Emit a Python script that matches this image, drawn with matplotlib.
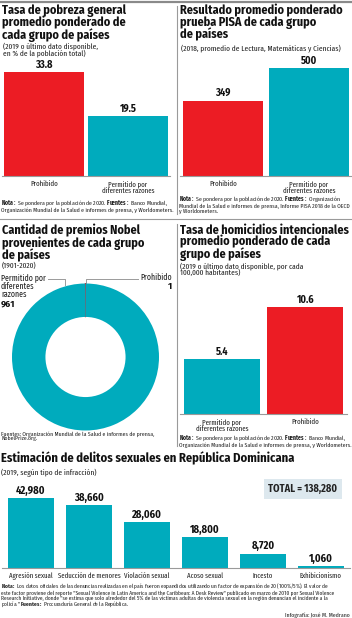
import matplotlib
matplotlib.use('Agg')
import matplotlib.pyplot as plt

# colores
ROJO = '#ec1c24'
TEAL = '#00abbd'
GRIS = '#9a9a9a'

# datos
pobreza_cats = ['Prohibido', 'Permitido por\ndiferentes razones']
pobreza_vals = [33.8, 19.5]

pisa_cats = ['Prohibido', 'Permitido por\ndiferentes razones']
pisa_vals = [349, 500]

nobel_cats = ['Prohibido', 'Permitido por\ndiferentes\nrazones']
nobel_vals = [1, 961]

homicidio_cats = ['Permitido por\ndiferentes razones', 'Prohibido']
homicidio_vals = [5.4, 10.6]

delitos_cats = ['Agresión sexual', 'Seducción de menores', 'Violación sexual',
                'Acoso sexual', 'Incesto', 'Exhibicionismo']
delitos_vals = [42980, 38660, 28060, 18800, 8720, 1060]

FAM = ['Fira Sans Condensed', 'DejaVu Sans']
NOTA_FAM = ['Fira Sans Extra Condensed', 'DejaVu Sans']
plt.rcParams['font.family'] = FAM
plt.rcParams['mathtext.fontset'] = 'custom'
plt.rcParams['mathtext.rm'] = 'Fira Sans Extra Condensed'
plt.rcParams['mathtext.bf'] = 'Fira Sans Extra Condensed:bold'

W, H = 352, 618
fig = plt.figure(figsize=(W / 100, H / 100), dpi=100)

# lienzo en pixeles para textos y lineas
cv = fig.add_axes([0, 0, 1, 1])
cv.set_xlim(0, W)
cv.set_ylim(H, 0)
cv.axis('off')


def ax_px(x0, y0, x1, y1):
    a = fig.add_axes([x0 / W, 1 - y1 / H, (x1 - x0) / W, (y1 - y0) / H])
    a.set_facecolor('none')
    return a


def titulo(x, y, s, size=8.8):
    cv.text(x, y, s, fontsize=size, fontweight='bold', va='top', ha='left',
            linespacing=0.9, color='#111111')


def sub(x, y, s, size=5.8):
    cv.text(x, y, s, fontsize=size, va='top', ha='left', linespacing=0.92,
            color='#222222', family=NOTA_FAM)


def nota(x, y, s, size=4.5, ls=0.88):
    cv.text(x, y, s, fontsize=size, va='top', ha='left', linespacing=ls,
            color='#222222', family=NOTA_FAM)


def barras(x0, x1, base, alto_px, max_px, cats, vals, colores, fmt, ancho,
           vsize=7.4, lsize=5.4):
    ax = ax_px(x0, base - alto_px, x1, base)
    pos = range(len(vals))
    ax.bar(pos, vals, width=ancho, color=colores)
    ax.set_xlim(-0.5, len(vals) - 0.5)
    ax.set_ylim(0, max(vals) * alto_px / max_px)
    for p, v in zip(pos, vals):
        ax.annotate(fmt(v), (p, v), xytext=(0, 1.5), textcoords='offset points',
                    ha='center', va='bottom', fontsize=vsize, fontweight='bold',
                    color='#111111')
    ax.set_xticks(list(pos))
    ax.set_xticklabels(cats, fontsize=lsize, linespacing=0.95, color='#222222',
                       family=NOTA_FAM)
    ax.tick_params(axis='x', length=0, pad=3)
    ax.set_yticks([])
    for s in ['top', 'left', 'right']:
        ax.spines[s].set_visible(False)
    ax.spines['bottom'].set_color(GRIS)
    ax.spines['bottom'].set_linewidth(0.8)
    return ax


# separadores
cv.plot([0, W], [1.5, 1.5], color='#8a8a8a', lw=1.6)
cv.plot([0, W], [219, 219], color=GRIS, lw=0.8)
cv.plot([176.5, 176.5], [6, 214], color=GRIS, lw=0.8)
cv.plot([176.5, 176.5], [224, 446], color=GRIS, lw=0.8)

# panel 1: pobreza
titulo(2, 4, 'Tasa de pobreza general\npromedio ponderado de\ncada grupo de países')
sub(3, 42, '(2019 o último dato disponible,\nen % de la población total)')
barras(2, 170, 176, 120, 104, pobreza_cats, pobreza_vals, [ROJO, TEAL],
       lambda v: f'{v:.1f}', 0.952)
nota(1, 199, r'$\bf{Nota:}$ Se pondera por la población de 2020. $\bf{Fuentes:}$ Banco Mundial,'
     '\nOrganización Mundial de la Salud e informes de prensa, y Worldometers.')

# panel 2: PISA
titulo(180, 4, 'Resultado promedio ponderado\nprueba PISA de cada grupo\nde países')
sub(181, 44, '(2018, promedio de Lectura, Matemáticas y Ciencias)')
barras(180, 352, 176, 120, 108, pisa_cats, pisa_vals, [ROJO, TEAL],
       lambda v: f'{v:d}', 0.93)
nota(179, 195, r'$\bf{Nota:}$ Se pondera por la población de 2020. $\bf{Fuentes:}$ Organización'
     '\nMundial de la Salud e informes de prensa, Informe PISA 2018 de la OECD'
     '\ny Worldometers.')

# panel 3: Nobel
titulo(2, 224, 'Cantidad de premios Nobel\nprovenientes de cada grupo\nde países')
sub(2, 262, '(1901-2020)')
axd = ax_px(12, 283.5, 159, 430.5)
wedges, _ = axd.pie(nobel_vals, colors=[ROJO, TEAL], startangle=90,
                    counterclock=True, radius=1,
                    wedgeprops=dict(width=0.455, edgecolor='none'))
wedges[0].set_edgecolor(ROJO)
wedges[0].set_linewidth(0.6)
axd.set_xlim(-1, 1)
axd.set_ylim(-1, 1)
axd.set_aspect('equal')
cv.text(1, 273, nobel_cats[1], fontsize=6.2, va='top', ha='left',
        linespacing=0.95, color='#222222', family=NOTA_FAM)
cv.text(1, 300, f'{nobel_vals[1]}', fontsize=7, fontweight='bold', va='top',
        ha='left', color='#111111')
cv.plot([48, 65, 65], [279, 279, 285], color=GRIS, lw=0.7)
cv.text(172, 273, nobel_cats[0], fontsize=6.2, va='top', ha='right',
        color='#222222', family=NOTA_FAM)
cv.text(172, 282, f'{nobel_vals[0]}', fontsize=7, fontweight='bold', va='top',
        ha='right', color='#111111')
cv.plot([138, 85.5, 85.5], [279, 279, 284], color=GRIS, lw=0.7)
nota(1, 431, 'Fuentes: Organización Mundial de la Salud e informes de prensa,'
     '\nNobelPrize.org.')

# panel 4: homicidios
titulo(180, 224, 'Tasa de homicidios intencionales\npromedio ponderado de cada\ngrupo de países')
sub(180, 262, '(2019 o último dato disponible, por cada\n100,000 habitantes)')
barras(180, 347, 414, 135, 107, homicidio_cats, homicidio_vals, [TEAL, ROJO],
       lambda v: f'{v:.1f}', 0.91)
nota(179, 434, r'$\bf{Nota:}$ Se pondera por la población de 2020. $\bf{Fuentes:}$ Banco Mundial,'
     '\nOrganización Mundial de la Salud e informes de prensa, y Worldometers.')

# panel 5: delitos sexuales
titulo(1, 452, 'Estimación de delitos sexuales en República Dominicana', size=9.0)
sub(1, 469, '(2019, según tipo de infracción)')
barras(2, 350, 568, 85, 70, delitos_cats, delitos_vals, [TEAL] * 6,
       lambda v: f'{v:,}', 0.79, vsize=7.6, lsize=5.3)
cv.text(303, 489, f'TOTAL = {sum(delitos_vals):,}', fontsize=7.4,
        fontweight='bold', ha='center', va='center', color='#222222',
        bbox=dict(boxstyle='square,pad=0.45', fc='#dde8ee', ec='none'))
nota(1, 582, r'$\bf{Nota:}$ Los datos oficiales de las denuncias realizadas en el país fueron expandidos utilizando un factor de expansión de 20 (100%/5%). El valor de'
     '\neste factor proviene del reporte "Sexual Violence in Latin America and the Caribbean: A Desk Review" publicado en marzo de 2010 por Sexual Violence'
     '\nResearch Initiative, donde "se estima que solo alrededor del 5% de las víctimas adultas de violencia sexual en la región denuncian el incidente a la'
     '\npolicía." ' r'$\bf{Fuentes:}$ Procuraduría General de la República.', size=4.25, ls=0.82)
cv.text(350, 618, 'Infografía: José M. Medrano', fontsize=4.5, ha='right',
        va='bottom', color='#222222', family=NOTA_FAM)

fig.savefig('out.png', dpi=100)
